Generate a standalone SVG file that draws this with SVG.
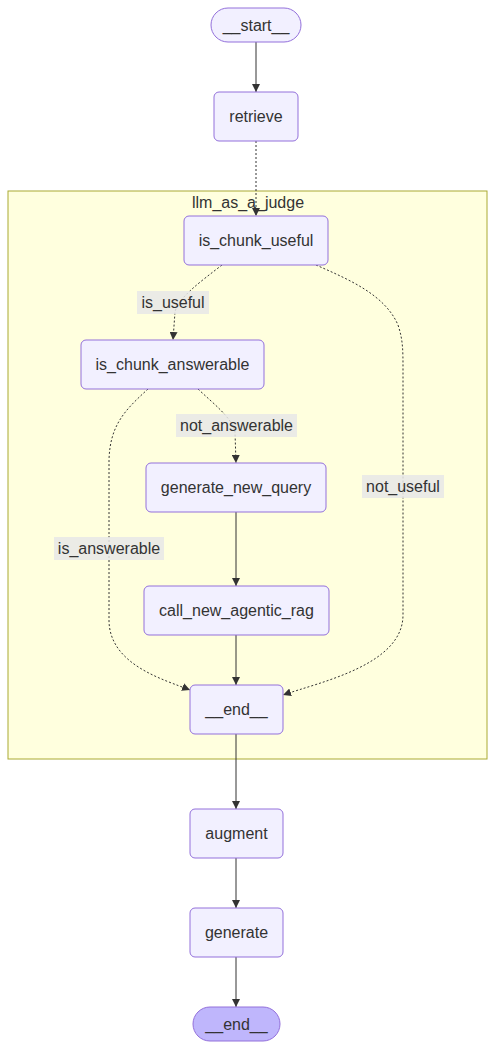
<svg xmlns="http://www.w3.org/2000/svg" width="496" height="1050" viewBox="0 0 496 1050">
<defs>
<style>
.node rect{fill:#f2f0ff;stroke:#9370db;stroke-width:1}
.term rect{fill:#f2f0ff;stroke:#9370db;stroke-width:1}
.final rect{fill:#bfb6fc;stroke:#9370db;stroke-width:1}
text{font-family:"Liberation Sans",Arial,sans-serif;font-size:16px;fill:#333333;text-anchor:middle;dominant-baseline:central}
.edge{fill:none;stroke:#333333;stroke-width:1}
.dot{stroke-dasharray:2 2}
.lbl{fill:#e8e8e8;opacity:0.85}
</style>
<marker id="arr" viewBox="0 0 10 10" refX="10" refY="5" markerWidth="8" markerHeight="8" markerUnits="userSpaceOnUse" orient="auto">
<path d="M0,0 L10,5 L0,10 z" fill="#333333"/>
</marker>
</defs>
<rect width="496" height="1050" fill="#ffffff"/>
<g id="cluster-llm_as_a_judge">
<rect x="8" y="191" width="479" height="568" fill="#ffffde" stroke="#aaaa33" stroke-width="1"/>
<text x="248" y="202">llm_as_a_judge</text>
</g>
<g id="edges">
<path class="edge" d="M256,42 L256,92" marker-end="url(#arr)"/>
<path class="edge dot" d="M256,141 L256,216" marker-end="url(#arr)"/>
<path class="edge dot" d="M222,265 C200,282 178,298 175,312 L173,340" marker-end="url(#arr)"/>
<path class="edge dot" d="M316,265 C350,280 385,295 398,325 C403,340 403,350 403,370 L403,615 C403,665 320,682 283,695" marker-end="url(#arr)"/>
<path class="edge dot" d="M198,389 C215,405 232,418 235,432 L236,463" marker-end="url(#arr)"/>
<path class="edge dot" d="M148,389 C125,410 110,425 109,460 L109,620 C109,665 165,680 190,690" marker-end="url(#arr)"/>
<path class="edge" d="M236,512 L236,586" marker-end="url(#arr)"/>
<path class="edge" d="M236,635 L236,685" marker-end="url(#arr)"/>
<path class="edge" d="M236,734 L236,809" marker-end="url(#arr)"/>
<path class="edge" d="M236,858 L236,908" marker-end="url(#arr)"/>
<path class="edge" d="M236,957 L236,1007" marker-end="url(#arr)"/>
<g id="edge-labels">
<rect class="lbl" x="137" y="291" width="72" height="23"/>
<text x="173" y="302">is_useful</text>
<rect class="lbl" x="176" y="414" width="121" height="23"/>
<text x="236.5" y="425">not_answerable</text>
<rect class="lbl" x="362" y="475" width="82" height="23"/>
<text x="403" y="486.5">not_useful</text>
<rect class="lbl" x="54" y="537" width="110" height="23"/>
<text x="109" y="548">is_answerable</text>
</g>
</g>
<g id="node-start" class="term">
<rect x="211" y="8" width="90" height="34" rx="17" ry="17"/>
<text x="256" y="25">__start__</text>
</g>
<g id="node-retrieve" class="node">
<rect x="214" y="92" width="84" height="49" rx="5" ry="5"/>
<text x="256" y="116.5">retrieve</text>
</g>
<g id="node-is_chunk_useful" class="node">
<rect x="184" y="216" width="144" height="49" rx="5" ry="5"/>
<text x="256" y="240.5">is_chunk_useful</text>
</g>
<g id="node-is_chunk_answerable" class="node">
<rect x="81" y="340" width="183" height="49" rx="5" ry="5"/>
<text x="172.5" y="364.5">is_chunk_answerable</text>
</g>
<g id="node-generate_new_query" class="node">
<rect x="146" y="463" width="180" height="49" rx="5" ry="5"/>
<text x="236" y="487.5">generate_new_query</text>
</g>
<g id="node-call_new_agentic_rag" class="node">
<rect x="144" y="586" width="185" height="49" rx="5" ry="5"/>
<text x="236.5" y="610.5">call_new_agentic_rag</text>
</g>
<g id="node-inner-end" class="node">
<rect x="190" y="685" width="93" height="49" rx="5" ry="5"/>
<text x="236.5" y="709.5">__end__</text>
</g>
<g id="node-augment" class="node">
<rect x="190" y="809" width="93" height="49" rx="5" ry="5"/>
<text x="236.5" y="833.5">augment</text>
</g>
<g id="node-generate" class="node">
<rect x="190" y="908" width="93" height="49" rx="5" ry="5"/>
<text x="236.5" y="932.5">generate</text>
</g>
<g id="node-end" class="final">
<rect x="193" y="1007" width="87" height="34" rx="17" ry="17"/>
<text x="236.5" y="1024">__end__</text>
</g>
</svg>
